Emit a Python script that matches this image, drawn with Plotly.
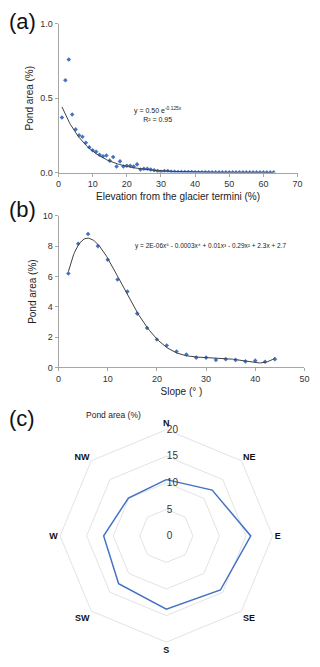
import numpy as np
import plotly.graph_objs as go

# (a) pond area vs elevation from the glacier termini
elev = list(range(1, 64))
elev_area = [0.37, 0.62, 0.76, 0.39, 0.29, 0.25, 0.24, 0.20, 0.17, 0.15,
             0.14, 0.12, 0.11, 0.115, 0.08, 0.105, 0.04, 0.075, 0.04, 0.045,
             0.045, 0.04, 0.055, 0.02, 0.025, 0.025, 0.02, 0.015, 0.01, 0.005,
             0.01, 0.01, 0.005, 0.005, 0.004, 0.004, 0.003, 0.003, 0.003, 0.002,
             0.002, 0.002, 0.002, 0.002, 0.001, 0.001, 0.001, 0.001, 0.001, 0.001,
             0.001, 0.001, 0.001, 0.001, 0.001, 0.001, 0.001, 0.001, 0.001, 0.001,
             0.001, 0.001, 0.001]
exp_a, exp_b = 0.50, -0.125

# (b) pond area vs slope
slope = [2, 4, 6, 8, 10, 12, 14, 16, 18, 20, 22, 24, 26, 28, 30, 32, 34, 36, 38, 40, 42, 44]
slope_area = [6.2, 8.15, 8.8, 8.0, 7.1, 5.8, 5.0, 3.55, 2.6, 1.85, 1.45, 1.05, 0.85,
              0.65, 0.65, 0.5, 0.55, 0.5, 0.4, 0.45, 0.38, 0.55]

# (c) pond area by aspect
aspects = ['N', 'NE', 'E', 'SE', 'S', 'SW', 'W', 'NW']
aspect_area = [10.6, 12.2, 15.9, 14.4, 13.8, 12.7, 11.8, 10.1]

blue = '#4472C4'
grey_line = '#404040'
font = 'Liberation Sans, Arial, sans-serif'

fig = go.Figure()

fig.add_trace(go.Scatter(
    x=elev, y=elev_area, mode='markers',
    marker=dict(symbol='diamond', size=3.5, color=blue),
    xaxis='x', yaxis='y', showlegend=False))
xa = np.linspace(1, 63, 200)
fig.add_trace(go.Scatter(
    x=xa, y=exp_a * np.exp(exp_b * xa), mode='lines',
    line=dict(color=grey_line, width=1),
    xaxis='x', yaxis='y', showlegend=False))

fig.add_trace(go.Scatter(
    x=slope, y=slope_area, mode='markers',
    marker=dict(symbol='diamond', size=3.5, color=blue),
    xaxis='x2', yaxis='y2', showlegend=False))
coef = np.polyfit(slope, slope_area, 5)
xb = np.linspace(2, 44, 200)
fig.add_trace(go.Scatter(
    x=xb, y=np.polyval(coef, xb), mode='lines',
    line=dict(color=grey_line, width=1),
    xaxis='x2', yaxis='y2', showlegend=False))

fig.add_trace(go.Scatterpolar(
    r=aspect_area + aspect_area[:1], theta=aspects + aspects[:1],
    mode='lines', line=dict(color=blue, width=1.5), showlegend=False))

axis_common = dict(showgrid=False, zeroline=False, showline=True,
                   linecolor='#a6a6a6', linewidth=1, ticks='outside',
                   ticklen=3, tickcolor='#a6a6a6',
                   tickfont=dict(size=9, color='#333333', family=font))

fig.update_layout(
    width=320, height=667,
    margin=dict(l=0, r=0, t=0, b=0),
    paper_bgcolor='white', plot_bgcolor='white',
    font=dict(family=font, color='#222222'),
    xaxis=dict(domain=[0.178, 0.944], range=[0, 70], dtick=10,
               anchor='y',
               title=dict(text='Elevation from the glacier termini (%)',
                          font=dict(size=10, family=font), standoff=4),
               **axis_common),
    yaxis=dict(domain=[0.745, 0.9715], range=[0, 1], dtick=0.5,
               tickformat='.1f', anchor='x',
               title=dict(text='Pond area (%)', font=dict(size=10, family=font),
                          standoff=4),
               **axis_common),
    xaxis2=dict(domain=[0.178, 0.966], range=[0, 50], dtick=10,
                anchor='y2',
                title=dict(text='Slope (° )', font=dict(size=10, family=font),
                           standoff=4),
                **axis_common),
    yaxis2=dict(domain=[0.4483, 0.6792], range=[0, 10], dtick=2,
                anchor='x2',
                title=dict(text='Pond area (%)', font=dict(size=10, family=font),
                           standoff=4),
                **axis_common),
    polar=dict(
        domain=dict(x=[0.183, 0.864], y=[0.0285, 0.3553]),
        gridshape='linear',
        bgcolor='white',
        radialaxis=dict(range=[0, 20], dtick=5, angle=90, tickangle=90,
                        side='clockwise',
                        showline=False, ticks='', gridcolor='#e3e3e3',
                        tickfont=dict(size=10, color='#333333', family=font)),
        angularaxis=dict(rotation=90, direction='clockwise',
                         showgrid=False, showline=True, linecolor='#e3e3e3',
                         ticks='',
                         tickfont=dict(size=9, color='#111111',
                                       family=font, weight='bold')),
    ),
)

ann = [
    dict(text='(a)', x=4, y=2, size=22),
    dict(text='(b)', x=4, y=193, size=22),
    dict(text='(c)', x=4, y=405, size=22),
]
for a in ann:
    fig.add_annotation(text=a['text'], xref='paper', yref='paper',
                       x=a['x'] / 320, y=1 - a['y'] / 667,
                       xanchor='left', yanchor='top',
                       showarrow=False,
                       font=dict(size=a['size'], family=font, color='#111111'))

fig.add_annotation(text='y = 0.50 e<sup>-0.125x</sup><br>R² = 0.95',
                   xref='x', yref='y', x=29, y=0.39, showarrow=False,
                   font=dict(size=7, family=font, color='#222222'))
fig.add_annotation(text='y = 2E-06x⁵ - 0.0003x⁴ + 0.01x³ - 0.29x² + 2.3x + 2.7',
                   xref='x2', yref='y2', x=31, y=8.0, showarrow=False,
                   font=dict(size=6.5, family=font, color='#222222'))
fig.add_annotation(text='Pond area (%)', xref='paper', yref='paper',
                   x=113 / 320, y=1 - 416 / 667, showarrow=False,
                   font=dict(size=8.5, family=font, color='#222222'))

fig.write_html("out.html", config={'displayModeBar': False},
               post_script="document.body.style.margin='0';")
